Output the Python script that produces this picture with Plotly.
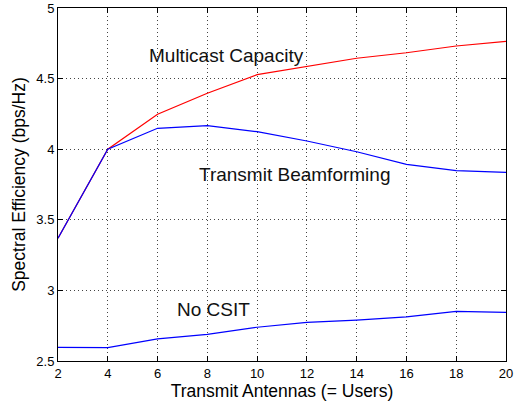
import plotly.graph_objects as go

antennas = [2, 4, 6, 8, 10, 12, 14, 16, 18, 20]
multicast_capacity = [3.37, 4.00, 4.247, 4.396, 4.528, 4.588, 4.644, 4.683, 4.731, 4.764]
transmit_beamforming = [3.37, 4.00, 4.148, 4.167, 4.124, 4.058, 3.982, 3.893, 3.848, 3.836]
no_csit = [2.597, 2.595, 2.656, 2.689, 2.739, 2.774, 2.790, 2.812, 2.852, 2.845]

x_ticks = [2, 4, 6, 8, 10, 12, 14, 16, 18, 20]
y_ticks = [2.5, 3, 3.5, 4, 4.5, 5]
y_tick_labels = ["2.5", "3", "3.5", "4", "4.5", "5"]

font_family = "Liberation Sans, Arial, Helvetica, sans-serif"

fig = go.Figure()
fig.add_trace(go.Scatter(x=antennas, y=no_csit, mode="lines",
                         line=dict(color="#0000ff", width=1.2), showlegend=False))
fig.add_trace(go.Scatter(x=antennas, y=multicast_capacity, mode="lines",
                         line=dict(color="#ff0000", width=1.2), showlegend=False))
fig.add_trace(go.Scatter(x=antennas, y=transmit_beamforming, mode="lines",
                         line=dict(color="#0000ff", width=1.2), showlegend=False))

annots = [
    ("Multicast Capacity", 8.75, 4.667),
    ("Transmit Beamforming", 11.52, 3.822),
    ("No CSIT", 8.23, 2.866),
]
for text, ax, ay in annots:
    fig.add_annotation(x=ax, y=ay, text=text, showarrow=False,
                       font=dict(family=font_family, size=19, color="#111111"),
                       xanchor="center", yanchor="middle")

axis_common = dict(
    showline=True, linecolor="black", linewidth=1, mirror="ticks",
    ticks="inside", ticklen=5, tickcolor="black",
    showgrid=True, gridcolor="#444444", griddash="1px,3px", gridwidth=1,
    zeroline=False, automargin=False,
    tickfont=dict(family=font_family, size=13, color="black"),
)

fig.update_xaxes(range=[2, 20], tickvals=x_ticks,
                 title=dict(text="Transmit Antennas (= Users)",
                            font=dict(family=font_family, size=17.5, color="black"),
                            standoff=1),
                 **axis_common)
fig.update_yaxes(range=[2.5, 5], tickvals=y_ticks, ticktext=y_tick_labels,
                 title=dict(text="Spectral Efficiency (bps/Hz)",
                            font=dict(family=font_family, size=17.5, color="black"),
                            standoff=6),
                 **axis_common)

fig.update_layout(
    width=514, height=405,
    margin=dict(l=58, r=8, t=8, b=44),
    paper_bgcolor="white", plot_bgcolor="white",
    showlegend=False,
)

fig.write_html("out.html", config={"displayModeBar": False},
               post_script="document.body.style.margin='0';")
